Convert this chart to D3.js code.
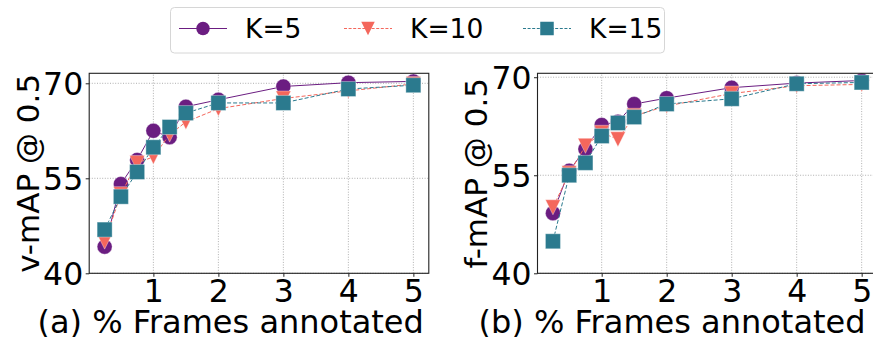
<!DOCTYPE html>
<html>
<head>
<meta charset="utf-8">
<script src="https://cdn.jsdelivr.net/npm/d3@7"></script>
<style>
  html, body { margin: 0; padding: 0; background: #fff; }
  svg { display: block; font-family: "DejaVu Sans", sans-serif; }
</style>
</head>
<body>
<svg id="chart" width="873" height="337"></svg>
<script>
// Percentage of annotated frames (x values shared by every series)
const framesPct = [0.25, 0.5, 0.75, 1, 1.25, 1.5, 2, 3, 4, 5];

// Series names
const seriesNames = ["K=5", "K=10", "K=15"];

// (a) video-level mAP @ 0.5
const vmapK5  = [44.2, 54.1, 57.9, 62.5, 61.5, 66.3, 67.4, 69.5, 70.1, 70.3];
const vmapK10 = [45.0, 52.5, 57.4, 58.4, 61.9, 63.9, 66.0, 67.6, 68.8, 69.9];
const vmapK15 = [46.9, 52.1, 56.0, 59.9, 63.1, 65.3, 66.9, 66.9, 69.1, 69.7];

// (b) frame-level mAP @ 0.5
const fmapK5  = [49.2, 55.7, 59.0, 62.7, 63.2, 65.9, 66.8, 68.4, 69.1, 69.5];
const fmapK10 = [50.1, 55.3, 59.5, 61.5, 60.5, 64.1, 65.6, 67.5, 68.7, 68.9];
const fmapK15 = [44.9, 55.0, 56.9, 61.0, 63.0, 63.9, 65.9, 66.7, 69.0, 69.2];

// Tick labels
const xTicks = [1, 2, 3, 4, 5];
const yTicks = [40, 55, 70];

// Styling per series
const styles = [
  { color: "#6b1d81", dash: null,   marker: "circle"   },
  { color: "#f4675c", dash: "4,2",  marker: "triangle" },
  { color: "#2b7a8e", dash: "4,2",  marker: "square"   }
];

const panels = [
  { series: [vmapK5, vmapK10, vmapK15], xRange: [89.2, 428.8], yRange: [273.3, 73.3],
    yDomain: [40, 71.58], yLabel: "v-mAP @ 0.5", yLabelX: 39,
    xLabel: "(a) % Frames annotated", xLabelX: 37.5 },
  { series: [fmapK5, fmapK10, fmapK15], xRange: [537.5, 877.1], yRange: [273.3, 73.3],
    yDomain: [40, 70.6], yLabel: "f-mAP @ 0.5", yLabelX: 486.5,
    xLabel: "(b) % Frames annotated", xLabelX: 478.5 }
];

const svg = d3.select("#chart");
const tickFont = 31.5;
const xLabelFont = 32;
const yLabelFont = 31;

function drawMarker(g, type, cx, cy, size, color, edge) {
  const r = size / 2;
  let m;
  if (type === "circle") {
    m = g.append("circle").attr("cx", cx).attr("cy", cy).attr("r", r);
  } else if (type === "square") {
    m = g.append("rect").attr("x", cx - r).attr("y", cy - r).attr("width", size).attr("height", size);
  } else {
    m = g.append("path").attr("d", `M${cx - r},${cy - r}L${cx + r},${cy - r}L${cx},${cy + r}Z`);
  }
  m.attr("fill", color);
  if (edge) m.attr("stroke", "#ffffff").attr("stroke-opacity", 0.35).attr("stroke-width", 1);
  return m;
}

panels.forEach(p => {
  const x = d3.scaleLinear().domain([0.0125, 5.2375]).range(p.xRange);
  const y = d3.scaleLinear().domain(p.yDomain).range(p.yRange);
  const g = svg.append("g");

  // grid
  const grid = g.append("g").attr("stroke", "#9a9a9a").attr("stroke-width", 0.8).attr("stroke-dasharray", "1,1.6");
  xTicks.forEach(t => grid.append("line").attr("x1", x(t)).attr("x2", x(t)).attr("y1", p.yRange[0]).attr("y2", p.yRange[1]));
  yTicks.forEach(t => grid.append("line").attr("x1", p.xRange[0]).attr("x2", p.xRange[1]).attr("y1", y(t)).attr("y2", y(t)));

  // series: line first, then markers, one series at a time
  p.series.forEach((vals, i) => {
    const st = styles[i];
    const pts = framesPct.map((f, k) => [x(f), y(vals[k])]);
    const line = g.append("path")
      .attr("d", d3.line()(pts))
      .attr("fill", "none")
      .attr("stroke", st.color)
      .attr("stroke-width", 1);
    if (st.dash) line.attr("stroke-dasharray", st.dash);
    pts.forEach(([px, py]) => drawMarker(g, st.marker, px, py, 15, st.color, true));
  });

  // spines
  g.append("rect")
    .attr("x", p.xRange[0]).attr("y", p.yRange[1])
    .attr("width", p.xRange[1] - p.xRange[0]).attr("height", p.yRange[0] - p.yRange[1])
    .attr("fill", "none").attr("stroke", "#222").attr("stroke-width", 1.1);

  // axes
  const yAxis = g.append("g").attr("transform", `translate(${p.xRange[0]},0)`)
    .call(d3.axisLeft(y).tickValues(yTicks).tickSize(3.5).tickPadding(2.5).tickFormat(d3.format("d")));
  const xAxis = g.append("g").attr("transform", `translate(0,${p.yRange[0]})`)
    .call(d3.axisBottom(x).tickValues(xTicks).tickSize(3.5).tickFormat(d3.format("d")));
  [yAxis, xAxis].forEach(a => {
    a.select(".domain").remove();
    a.selectAll(".tick line").attr("stroke", "#222").attr("stroke-width", 1);
    a.selectAll("text").attr("font-size", tickFont).attr("font-family", "DejaVu Sans").attr("fill", "#000");
  });
  yAxis.selectAll("text").attr("dy", "0.35em");
  xAxis.selectAll("text").attr("dy", 0).attr("y", 28.4);

  // axis labels
  g.append("text")
    .attr("transform", `translate(${p.yLabelX},${(p.yRange[0] + p.yRange[1]) / 2}) rotate(-90)`)
    .attr("text-anchor", "middle")
    .attr("font-size", yLabelFont)
    .text(p.yLabel);
  g.append("text")
    .attr("x", p.xLabelX).attr("y", 333.3)
    .attr("font-size", xLabelFont)
    .text(p.xLabel);
});

// legend
const legend = svg.append("g");
legend.append("rect")
  .attr("x", 170.5).attr("y", 7.5).attr("width", 494).attr("height", 45.5)
  .attr("rx", 4).attr("fill", "#fff").attr("stroke", "#d6d6d6").attr("stroke-width", 1);
const legendX = [179, 344, 523];
seriesNames.forEach((name, i) => {
  const st = styles[i];
  const x0 = legendX[i], ly = 28.5;
  const ln = legend.append("line").attr("x1", x0).attr("x2", x0 + 48).attr("y1", ly).attr("y2", ly)
    .attr("stroke", st.color).attr("stroke-width", 1);
  if (st.dash) ln.attr("stroke-dasharray", "3,1.6");
  drawMarker(legend, st.marker, x0 + 24, ly, 13.5, st.color, false);
  legend.append("text").attr("x", x0 + 66).attr("y", 38.3)
    .attr("font-size", 26.5).text(name);
});
</script>
</body>
</html>
